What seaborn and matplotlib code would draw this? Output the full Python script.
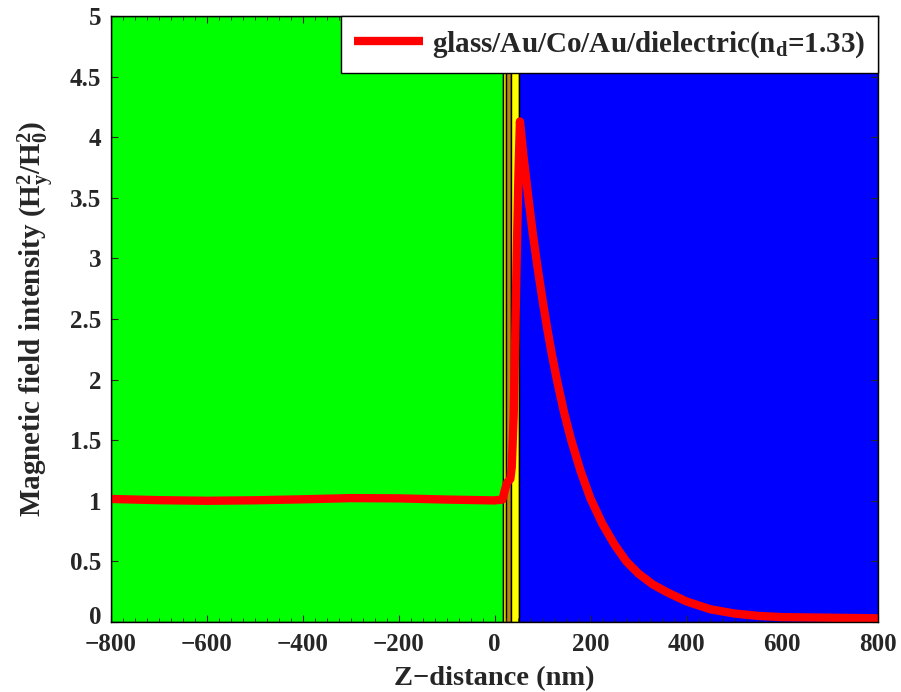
import matplotlib
matplotlib.use("Agg")
import matplotlib.pyplot as plt
import matplotlib.transforms as mtransforms
from matplotlib.ticker import MultipleLocator
import numpy as np
import pandas as pd
import seaborn as sns

# Layer stack (nm): glass | Au | Co | Au | dielectric
layer_names = ["glass", "Au", "Co", "Au", "dielectric"]
layer_edges = [-800, 16.7, 25.0, 33.4, 52.0, 800]
layer_colors = ["#00ff00", "#ffff00", "#b8860b", "#ffff00", "#0000ff"]

# Normalised magnetic field intensity |Hy|^2/|H0|^2 along z
z_nm = [-800, -700, -600, -500, -400, -300, -200, -100, 0, 16.7,
        21, 26, 33, 36, 40, 43, 46, 50, 53,
        60, 70, 80, 90, 100, 110, 120, 130, 145, 160, 180, 200,
        225, 250, 275, 300, 330, 360, 400, 450, 500, 550, 600, 700, 800]
intensity = [1.015, 1.005, 1.0, 1.004, 1.012, 1.022, 1.02, 1.01, 1.003, 1.01,
             1.08, 1.15, 1.18, 1.28, 1.7, 2.3, 2.95, 3.7, 4.13,
             3.86, 3.52, 3.20, 2.92, 2.66, 2.42, 2.2, 2.0, 1.73, 1.50, 1.24, 1.02,
             0.81, 0.64, 0.50, 0.40, 0.31, 0.245, 0.17, 0.105, 0.07, 0.05, 0.04, 0.035, 0.03]

legend_label = r"glass/Au/Co/Au/dielectric(n$_{\mathbf{d}}$=1.33)"
x_label = "Z\u2212distance (nm)"
y_label = r"Magnetic field intensity (H$_{\mathbf{y}}^{\mathbf{2}}$/H$_{\mathbf{0}}^{\mathbf{2}}$)"
y_ticks = [0, 0.5, 1, 1.5, 2, 2.5, 3, 3.5, 4, 4.5, 5]
y_tick_labels = ["0", "0.5", "1", "1.5", "2", "2.5", "3", "3.5", "4", "4.5", "5"]

sns.set_style("ticks")
plt.rcParams["font.family"] = ["Liberation Serif", "DejaVu Serif"]
plt.rcParams["font.weight"] = "bold"
plt.rcParams["mathtext.fontset"] = "custom"
plt.rcParams["mathtext.rm"] = "Liberation Serif:bold"
plt.rcParams["mathtext.bf"] = "Liberation Serif:bold"
plt.rcParams["mathtext.it"] = "Liberation Serif:bold"
plt.rcParams["axes.unicode_minus"] = True

fig = plt.figure(figsize=(9.01, 6.92), dpi=100)
ax = fig.add_axes([0.1232, 0.1012, 0.8513, 0.8757])

# Shaded layers with thin black borders
for left, right, color in zip(layer_edges[:-1], layer_edges[1:], layer_colors):
    ax.axvspan(left, right, facecolor=color, edgecolor="black", linewidth=1.0, zorder=0)

df = pd.DataFrame({"z": z_nm, "I": intensity})
sns.lineplot(data=df, x="z", y="I", ax=ax, color="#ff0000", linewidth=6.0,
             label=legend_label, solid_capstyle="round", solid_joinstyle="round",
             zorder=3)

ax.set_xlim(-800, 800)
ax.set_ylim(0, 5)
ax.xaxis.set_major_locator(MultipleLocator(200))
ax.xaxis.set_minor_locator(MultipleLocator(25))
ax.set_yticks(y_ticks)
ax.set_yticklabels(y_tick_labels)
ax.tick_params(axis="both", which="major", direction="in", length=5, width=0.8,
               labelsize=18, top=True, right=True)
ax.tick_params(axis="x", which="major", pad=8)
ax.tick_params(axis="y", which="major", pad=7)
ax.tick_params(axis="x", which="minor", direction="in", length=3, width=0.6,
               top=True, bottom=True)
for lbl in ax.get_xticklabels() + ax.get_yticklabels():
    lbl.set_fontweight("bold")

# lift the bottom y label a little so it clears the first x label
zero_lbl = ax.get_yticklabels()[0]
zero_lbl.set_transform(zero_lbl.get_transform() +
                       mtransforms.ScaledTranslation(0, 5 / 72, fig.dpi_scale_trans))

ax.set_xlabel(x_label, fontsize=20.5, fontweight="bold", labelpad=7)
ax.set_ylabel(y_label, fontsize=21, fontweight="bold", labelpad=9)

for spine in ax.spines.values():
    spine.set_linewidth(1.0)
    spine.set_color("black")
    spine.set_zorder(5)

leg = ax.legend(loc="upper right", frameon=True, fancybox=False,
                borderaxespad=0, handlelength=2.35, handletextpad=0.3,
                borderpad=0.45, prop={"weight": "bold", "size": 21})
leg.get_frame().set_edgecolor("black")
leg.get_frame().set_linewidth(1.0)
leg.get_frame().set_alpha(1.0)
for line in leg.get_lines():
    line.set_linewidth(6.0)
    line.set_solid_capstyle("butt")

fig.savefig("out.png", dpi=100)
